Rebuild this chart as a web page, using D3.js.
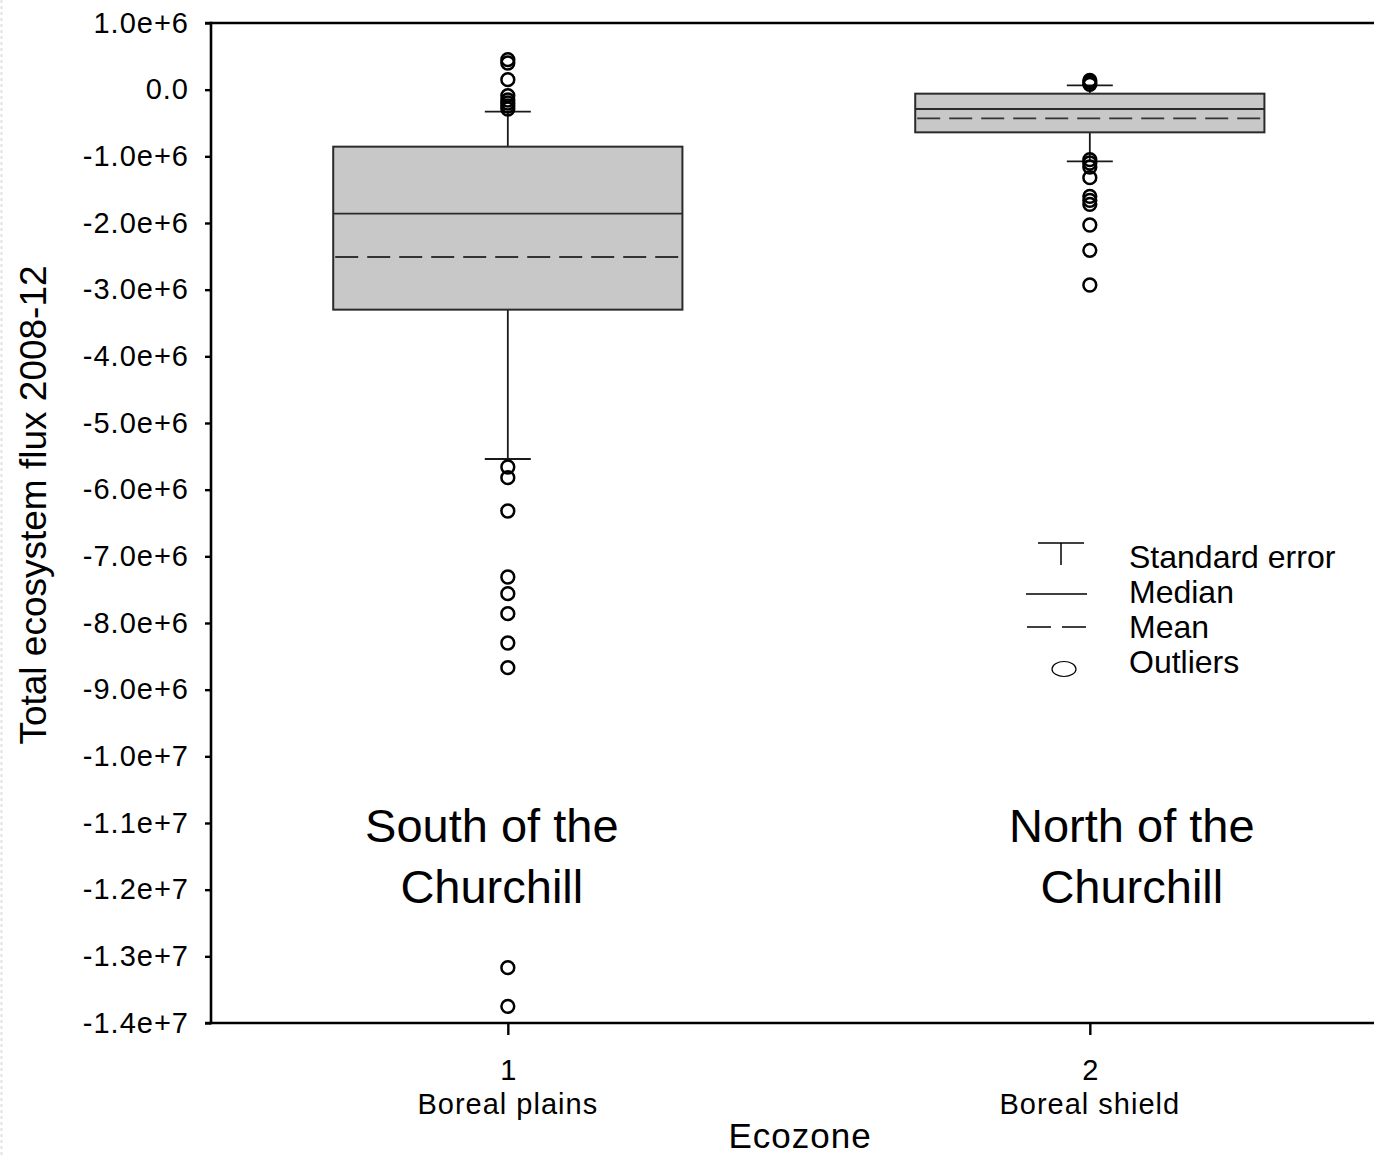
<!DOCTYPE html>
<html>
<head>
<meta charset="utf-8">
<script src="https://cdn.jsdelivr.net/npm/d3@7"></script>
<style>
  html, body { margin: 0; padding: 0; background: #fff; }
  svg { display: block; font-family: "Liberation Sans", Arial, Helvetica, sans-serif; }
</style>
</head>
<body>
<svg id="chart" width="1374" height="1155"></svg>
<script>
// ---------------- data ----------------
const categories = [1, 2];
const categoryNames = ["Boreal plains", "Boreal shield"];
const regionLabels = [["South of the", "Churchill"], ["North of the", "Churchill"]];

const q1Values = [-3.30e6, -0.64e6];      // 25th percentile (box bottom)
const q3Values = [-0.855e6, -0.06e6];     // 75th percentile (box top)
const medianValues = [-1.86e6, -0.29e6];
const meanValues = [-2.51e6, -0.43e6];
const whiskerLowValues = [-5.54e6, -1.076e6];
const whiskerHighValues = [-0.33e6, 0.065e6];

const outliersBorealPlains = [
  0.45e6, 0.40e6, 0.15e6, -0.09e6, -0.155e6, -0.20e6, -0.245e6, -0.29e6,
  -5.66e6, -5.82e6, -6.32e6, -7.31e6, -7.56e6, -7.86e6, -8.30e6, -8.67e6,
  -13.17e6, -13.75e6
];
const outliersBorealShield = [
  0.14e6, 0.11e6, 0.08e6,
  -1.05e6, -1.10e6, -1.16e6, -1.32e6, -1.60e6, -1.66e6, -1.72e6,
  -2.03e6, -2.41e6, -2.93e6
];

const yTickValues = [1e6, 0, -1e6, -2e6, -3e6, -4e6, -5e6, -6e6, -7e6, -8e6, -9e6,
  -1e7, -1.1e7, -1.2e7, -1.3e7, -1.4e7];
const yTickLabels = ["1.0e+6", "0.0", "-1.0e+6", "-2.0e+6", "-3.0e+6", "-4.0e+6",
  "-5.0e+6", "-6.0e+6", "-7.0e+6", "-8.0e+6", "-9.0e+6", "-1.0e+7", "-1.1e+7",
  "-1.2e+7", "-1.3e+7", "-1.4e+7"];

const legendLabels = ["Standard error", "Median", "Mean", "Outliers"];
const yTitle = "Total ecosystem flux 2008-12";
const xTitle = "Ecozone";

// ---------------- layout ----------------
const svg = d3.select("#chart");
const plotLeft = 211, plotTop = 23, plotBottom = 1023, plotRight = 1374;

const y = d3.scaleLinear().domain([-1.4e7, 1e6]).range([plotBottom, plotTop]);
const x = d3.scaleLinear().domain([0.49, 2.49]).range([plotLeft, plotRight + 1]);
const boxHalf = 0.3;     // in category units
const capHalf = 23;      // px

const dark = "#1a1a1a";

// faint dotted border on far left
svg.append("line").attr("x1", 1.5).attr("x2", 1.5).attr("y1", 0).attr("y2", 1155)
  .attr("stroke", "#e2e2e2").attr("stroke-width", 2).attr("stroke-dasharray", "3,3");

// ---------------- boxes ----------------
const boxes = categories.map((c, i) => ({
  c, q1: q1Values[i], q3: q3Values[i], med: medianValues[i], mean: meanValues[i],
  lo: whiskerLowValues[i], hi: whiskerHighValues[i],
  out: i === 0 ? outliersBorealPlains : outliersBorealShield
}));

const g = svg.append("g");
boxes.forEach(b => {
  const cx = x(b.c);
  // whiskers
  g.append("line").attr("x1", cx).attr("x2", cx).attr("y1", y(b.q3)).attr("y2", y(b.hi))
    .attr("stroke", dark).attr("stroke-width", 1.8);
  g.append("line").attr("x1", cx).attr("x2", cx).attr("y1", y(b.q1)).attr("y2", y(b.lo))
    .attr("stroke", dark).attr("stroke-width", 1.8);
  [b.hi, b.lo].forEach(v => {
    g.append("line").attr("x1", cx - capHalf).attr("x2", cx + capHalf)
      .attr("y1", y(v)).attr("y2", y(v)).attr("stroke", dark).attr("stroke-width", 1.8);
  });
  // box
  const bx0 = x(b.c - boxHalf), bx1 = x(b.c + boxHalf);
  g.append("rect").attr("x", bx0).attr("y", y(b.q3))
    .attr("width", bx1 - bx0).attr("height", y(b.q1) - y(b.q3))
    .attr("fill", "#c8c8c8").attr("stroke", "#2a2a2a").attr("stroke-width", 2);
  // median
  g.append("line").attr("x1", bx0).attr("x2", bx1).attr("y1", y(b.med)).attr("y2", y(b.med))
    .attr("stroke", "#2a2a2a").attr("stroke-width", 1.8);
  // mean
  g.append("line").attr("x1", bx0 + 2).attr("x2", bx1).attr("y1", y(b.mean)).attr("y2", y(b.mean))
    .attr("stroke", "#333").attr("stroke-width", 1.9).attr("stroke-dasharray", "23,9");
  // outliers
  g.selectAll(null).data(b.out).enter().append("circle")
    .attr("cx", cx).attr("cy", d => y(d)).attr("r", 6.4)
    .attr("fill", "none").attr("stroke", "#000").attr("stroke-width", 2.5);
});

// ---------------- axes / frame ----------------
const frame = svg.append("g").attr("stroke", "#000").attr("stroke-width", 2.6);
frame.append("line").attr("x1", plotLeft).attr("x2", plotLeft).attr("y1", plotTop - 1.3).attr("y2", plotBottom + 1.3);
frame.append("line").attr("x1", plotLeft - 6).attr("x2", plotRight).attr("y1", plotTop).attr("y2", plotTop);
frame.append("line").attr("x1", plotLeft - 6).attr("x2", plotRight).attr("y1", plotBottom).attr("y2", plotBottom);

const yAxis = d3.axisLeft(y).tickValues(yTickValues)
  .tickFormat((d, i) => yTickLabels[i]).tickSize(6).tickPadding(16);
const yG = svg.append("g").attr("transform", `translate(${plotLeft},0)`).call(yAxis);
yG.select(".domain").remove();
yG.selectAll(".tick line").attr("stroke", "#000").attr("stroke-width", 2.4);
yG.selectAll(".tick text").attr("font-size", 29).attr("letter-spacing", 1)
  .attr("fill", "#000").attr("font-family", "Liberation Sans, Arial, sans-serif");

const xAxis = d3.axisBottom(x).tickValues(categories).tickFormat(d3.format("d"))
  .tickSize(12).tickPadding(24);
const xG = svg.append("g").attr("transform", `translate(0,${plotBottom})`).call(xAxis);
xG.select(".domain").remove();
xG.selectAll(".tick line").attr("stroke", "#000").attr("stroke-width", 2.4);
xG.selectAll(".tick text").attr("font-size", 29).attr("fill", "#000")
  .attr("font-family", "Liberation Sans, Arial, sans-serif");

// category names under ticks
svg.selectAll(".catname").data(categories).enter().append("text")
  .attr("class", "catname")
  .attr("x", d => x(d)).attr("y", 1114)
  .attr("text-anchor", "middle").attr("font-size", 29).attr("letter-spacing", 1)
  .text((d, i) => categoryNames[i]);

// axis titles
svg.append("text").attr("x", 800).attr("y", 1148).attr("text-anchor", "middle")
  .attr("font-size", 35).attr("letter-spacing", 1).text(xTitle);
svg.append("text").attr("transform", "translate(46,505) rotate(-90)")
  .attr("text-anchor", "middle").attr("font-size", 37).text(yTitle);

// region annotations
const regionOffsets = [-16, 42];
categories.forEach((c, i) => {
  const t = svg.append("text").attr("text-anchor", "middle").attr("font-size", 47);
  regionLabels[i].forEach((line, j) => {
    t.append("tspan").attr("x", x(c) + regionOffsets[i]).attr("y", 842 + j * 61).text(line);
  });
});

// ---------------- legend ----------------
const lg = svg.append("g").attr("stroke", "#000").attr("fill", "none");
lg.append("line").attr("x1", 1038).attr("x2", 1084).attr("y1", 543).attr("y2", 543).attr("stroke-width", 1.5);
lg.append("line").attr("x1", 1061).attr("x2", 1061).attr("y1", 543).attr("y2", 565).attr("stroke-width", 1.5);
lg.append("line").attr("x1", 1026).attr("x2", 1087).attr("y1", 594).attr("y2", 594).attr("stroke-width", 1.5);
lg.append("line").attr("x1", 1027).attr("x2", 1087).attr("y1", 627).attr("y2", 627)
  .attr("stroke-width", 1.5).attr("stroke-dasharray", "24,11");
lg.append("ellipse").attr("cx", 1064).attr("cy", 669).attr("rx", 12).attr("ry", 7.5).attr("stroke-width", 1.2);

svg.selectAll(".legtext").data(legendLabels).enter().append("text")
  .attr("class", "legtext").attr("x", 1129).attr("y", (d, i) => 568 + i * 35)
  .attr("font-size", 32).attr("fill", "#000").text(d => d);
</script>
</body>
</html>
